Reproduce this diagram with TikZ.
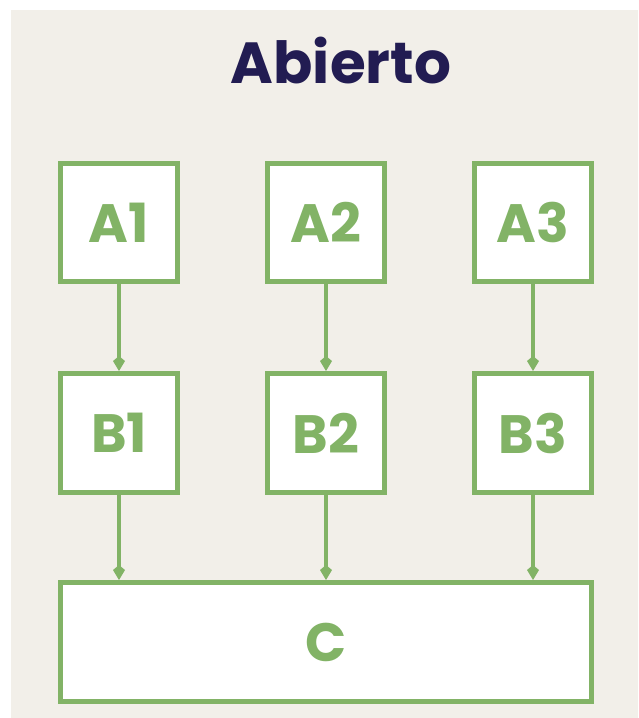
\documentclass[tikz,border=0pt]{standalone}
\usepackage{fontspec}
\setmainfont{Poppins}
\usetikzlibrary{arrows.meta}
\definecolor{bg}{HTML}{F2EFE9}
\definecolor{gr}{HTML}{82B366}
\definecolor{navy}{HTML}{221C52}
\tikzset{
  box/.style={draw=gr, line width=5pt, fill=white, text=gr, font=\bfseries\fontsize{54}{54}\selectfont, inner sep=0pt, anchor=north west},
  conn/.style={draw=gr, line width=3.2pt, -{Kite[length=15pt,width=12pt,inset=5pt]}}
}
\begin{document}
\begin{tikzpicture}[x=1pt,y=-1pt]
\useasboundingbox (0,0) rectangle (638,718);
\fill[bg] (11,10) rectangle (638,718);
\node[font=\bfseries\fontsize{58}{58}\selectfont, text=navy] (title) at (341,61) {Abierto};
\node[box, minimum width=117pt, minimum height=118pt] (a1) at (58,161) {A1};
\node[box, minimum width=117pt, minimum height=118pt] (a2) at (265,161) {A2};
\node[box, minimum width=117pt, minimum height=118pt] (a3) at (472,161) {A3};
\node[box, minimum width=117pt, minimum height=119pt] (b1) at (58,371) {B1};
\node[box, minimum width=117pt, minimum height=119pt] (b2) at (265,371) {B2};
\node[box, minimum width=117pt, minimum height=119pt] (b3) at (472,371) {B3};
\node[box, minimum width=531pt, minimum height=119pt] (c) at (58,580) {C};
\draw[conn] (a1.south) -- (b1.north);
\draw[conn] (a2.south) -- (b2.north);
\draw[conn] (a3.south) -- (b3.north);
\draw[conn] (b1.south) -- (b1.south |- c.north);
\draw[conn] (b2.south) -- (b2.south |- c.north);
\draw[conn] (b3.south) -- (b3.south |- c.north);
\end{tikzpicture}
\end{document}
